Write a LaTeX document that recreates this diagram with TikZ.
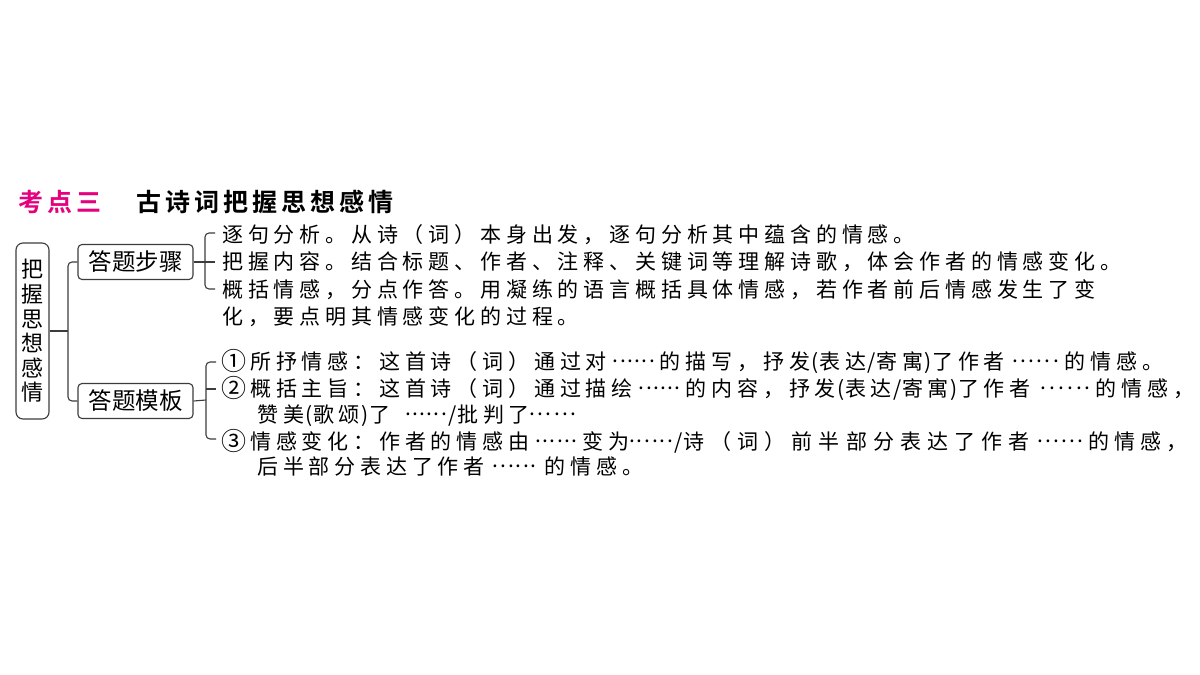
\documentclass[tikz,border=0pt]{standalone}
\usepackage{fontspec}
\setmainfont{Noto Sans CJK SC}
\newfontfamily\cjkbody[LetterSpace=23]{Noto Sans CJK SC}
\newfontfamily\cjkwide[LetterSpace=29]{Noto Sans CJK SC}
\newfontfamily\cjkplain{Noto Sans CJK SC}
\newfontfamily\cjktitle[LetterSpace=16]{Noto Sans CJK SC Bold}
\newcommand\hw[1]{{\cjkplain\hspace{1.5pt}#1\hspace{0.5pt}}}
\newcommand\ddx[3]{{\cjkplain\hspace{#1pt}\raisebox{0.3em}{\makebox[#2pt][s]{.\hfil.\hfil.\hfil.\hfil.\hfil.}}\hspace{#3pt}}}
\newcommand\dd{\ddx{6}{42}{5}}
\newcommand\cn[1]{{\cjkplain\makebox[29pt][l]{\fontsize{25}{25}\selectfont\raisebox{-1pt}{#1}}}}
\definecolor{titlepink}{RGB}{230,0,126}
\definecolor{linegray}{RGB}{60,60,60}
\begin{document}
\begin{tikzpicture}[x=1pt,y=-1pt,
  body/.style={anchor=west,inner sep=0pt,text height=16pt,text depth=4pt,font=\cjkbody\fontsize{21}{25}\selectfont},
  title/.style={anchor=west,inner sep=0pt,font=\cjktitle\fontsize{25}{28}\selectfont},
  stepbox/.style={draw=linegray,line width=1.1pt,rounded corners=4pt,minimum width=115pt,minimum height=35pt,inner sep=0pt,font=\fontsize{23.5}{25}\selectfont},
  conn/.style={draw=linegray,line width=1.1pt,rounded corners=4pt}]
\path[fill=white] (0,0) rectangle (1200,675);
% title
\node[title,text=titlepink] (t1) at (18,202) {考点三};
\node[title] (t2) at (136,202) {古诗词把握思想感情};
% main box
\node[draw=linegray,line width=1.1pt,rounded corners=7pt,minimum width=33pt,minimum height=176pt,inner sep=0pt,align=center,font=\fontsize{22}{24.6}\selectfont] (m) at (32.5,331) {把\\握\\思\\想\\感\\情};
\node[stepbox] (b1) at (135.5,262) {答题步骤};
\node[stepbox] (b2) at (135.5,401) {答题模板};
\coordinate (j0) at (68,331);
\draw[conn] (m.east) -- (j0);
\draw[conn] (b1.west) -| (j0) |- (b2.west);
% bracket 1
\coordinate (p1) at (215,233);
\coordinate (p2) at (215,262);
\coordinate (p3) at (215,289);
\coordinate (v1) at (205,262);
\draw[conn] (p1) -| (v1) |- (p3);
\draw[conn] (b1.east) -- (p2);
% bracket 2
\coordinate (q1) at (216,362);
\coordinate (q2) at (216,389);
\coordinate (q3) at (216,439);
\coordinate (v2) at (206,400);
\draw[conn] (q1) -| (v2) |- (q3);
\draw[conn] (b2.east) -- (v2);
\draw[conn] (v2 |- q2) -- (q2);
% text group 1
\node[body] (s1) at (222,236) {逐句分析。从诗（词）本身出发，逐句分析其中蕴含的情感。};
\node[body] (s2) at (222,263.5) {把握内容。结合标题、作者、注释、关键词等理解诗歌，体会作者的情感变化。};
\node[body] (s3) at (222,291) {概括情感，分点作答。用凝练的语言概括具体情感，若作者前后情感发生了变};
\node[body] (s4) at (222,318.5) {化，要点明其情感变化的过程。};
% text group 2
\node[body] (r1) at (221,363) {\cn{①}所抒情感：这首诗（词）通过对\dd 的描写，抒发\hw{(}表达\hw{/}寄寓\hw{)}了作者\ddx{8}{46}{6}的情感。};
\node[body] (r2) at (221,390) {\cn{②}概括主旨：这首诗（词）通过描绘\dd 的内容，抒发\hw{(}表达\hw{/}寄寓\hw{)}了作者\ddx{10}{50}{5}的情感，};
\node[body] (r3) at (257,416) {赞美\hw{(}歌颂\hw{)}了\ddx{15}{42}{0}\hw{/}批判了\ddx{0}{46}{0}};
\node[body] (r4) at (221,443) {\cn{③}情感变化：作者的情感由\dd 变为\ddx{0}{44}{0}\hw{/}{\cjkwide 诗（词）前半部分表达了作者}\ddx{8}{46}{5}的情感，};
\node[body] (r5) at (257,468) {后半部分表达了作者\ddx{8}{44}{8}的情感。};
\end{tikzpicture}
\end{document}
